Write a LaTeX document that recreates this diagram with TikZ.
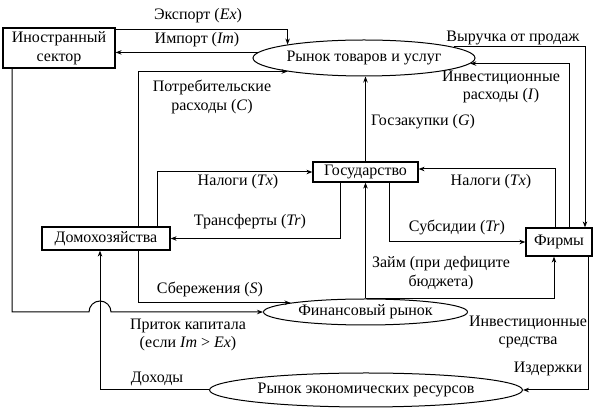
\documentclass[tikz,border=0pt]{standalone}
\usepackage{fontspec}
\setmainfont{Liberation Serif}
\usetikzlibrary{shapes.geometric,arrows.meta}
\begin{document}
\begin{tikzpicture}[x=1pt,y=1pt,
  font=\fontsize{16}{18.5}\selectfont,
  box/.style={draw,line width=1.2pt,inner sep=0pt,align=center},
  oval/.style={draw,ellipse,line width=1pt,inner sep=0pt},
  arr/.style={line width=1pt,-{Stealth[length=6pt,width=4.5pt]}},
  lbl/.style={align=center,inner sep=0pt}]
\useasboundingbox (0,0) rectangle (598,412);
% nodes
\node[box,minimum width=112,minimum height=40] (foreign) at (59,364) {Иностранный\\сектор};
\node[oval,minimum width=222,minimum height=36] (goods) at (364,354) {Рынок товаров и услуг};
\node[box,minimum width=105,minimum height=20] (gov) at (365.5,240) {Государство};
\node[box,minimum width=128,minimum height=23] (hh) at (106,173.5) {Домохозяйства};
\node[box,minimum width=66,minimum height=28] (firms) at (559,170) {Фирмы};
\node[oval,minimum width=204,minimum height=26] (fin) at (365.5,100) {Финансовый рынок};
\node[oval,minimum width=313,minimum height=34] (res) at (366,22) {Рынок экономических ресурсов};
% connectors
\draw[arr] ([yshift=-2pt]foreign.north east) -| (goods.170);
\draw[arr] (goods.177) -- (goods.177 -| foreign.east);
\draw[arr] ([xshift=-32pt]hh.north east) |- (goods.190);
\draw[arr] (gov.north) -- (gov.north |- goods.south);
\draw[arr] ([xshift=-13pt]hh.north east) |- (gov.west);
\draw[arr] ([xshift=-25.5pt]gov.south) |- (hh.east);
\draw[arr] ([xshift=-4pt]firms.north) |- ([yshift=3pt]gov.east);
\draw[arr] ([xshift=23.5pt]gov.south) |- (firms.west);
\draw[arr] (goods.7) -| ([xshift=26pt]firms.north);
\draw[arr] ([xshift=10pt]firms.north) |- (goods.357);
\draw[arr] (fin.north) -- (gov.south);
\draw[arr] (fin.north) -| ([xshift=-5pt]firms.south);
\draw[arr] ([xshift=29pt]firms.south) |- (res.east);
\draw[arr] (res.west) -| ([xshift=-6pt]hh.south);
\draw[arr] ([xshift=-32pt]hh.south east) |- (fin.173);
\draw[arr] ([xshift=-47pt]foreign.south) |- (89,100) arc[start angle=180,end angle=0,radius=11pt] -- (fin.west);
% labels
\node[lbl] (lex) at (198,396) {Экспорт (\textit{Ex})};
\node[lbl] (lim) at (197,372) {Импорт (\textit{Im})};
\node[lbl] (lc) at (212,315) {Потребительские\\расходы (\textit{C})};
\node[lbl] (lrev) at (513,374) {Выручка от продаж};
\node[lbl] (linv) at (501,325) {Инвестиционные\\расходы (\textit{I})};
\node[lbl] (lg) at (423,290) {Госзакупки (\textit{G})};
\node[lbl] (ltx1) at (238,230) {Налоги (\textit{Tx})};
\node[lbl] (ltr1) at (250,190) {Трансферты (\textit{Tr})};
\node[lbl] (ltx2) at (491,230) {Налоги (\textit{Tx})};
\node[lbl] (ltr2) at (457,184) {Субсидии (\textit{Tr})};
\node[lbl] (lloan) at (441,139) {Займ (при дефиците\\бюджета)};
\node[lbl] (ls) at (210,123) {Сбережения (\textit{S})};
\node[lbl] (lcap) at (188,77) {Приток капитала\\(если \textit{Im} > \textit{Ex})};
\node[lbl] (linc) at (157,33) {Доходы};
\node[lbl] (lfunds) at (528,80) {Инвестиционные\\средства};
\node[lbl] (lcost) at (548,43) {Издержки};
\end{tikzpicture}
\end{document}
